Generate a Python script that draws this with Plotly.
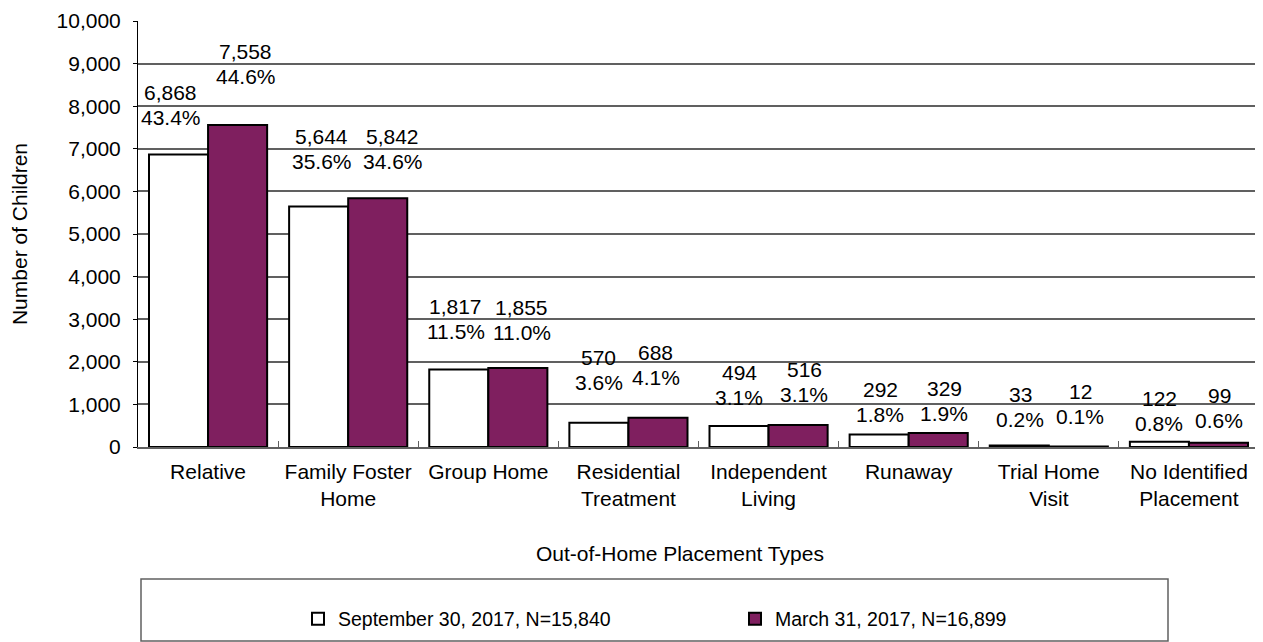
import plotly.graph_objects as go

categories = ["Relative", "Family Foster<br>Home", "Group Home", "Residential<br>Treatment",
              "Independent<br>Living", "Runaway", "Trial Home<br>Visit", "No Identified<br>Placement"]
sep_values = [6868, 5644, 1817, 570, 494, 292, 33, 122]
sep_pct = ["43.4%", "35.6%", "11.5%", "3.6%", "3.1%", "1.8%", "0.2%", "0.8%"]
mar_values = [7558, 5842, 1855, 688, 516, 329, 12, 99]
mar_pct = ["44.6%", "34.6%", "11.0%", "4.1%", "3.1%", "1.9%", "0.1%", "0.6%"]
sep_name = "September 30, 2017, N=15,840"
mar_name = "March 31, 2017, N=16,899"

# label nudges (pixels) to mimic the original label placement
sep_label_dy = [62, 70, 63, 65, 53, 45, 51, 43]
mar_label_dy = [74, 62, 60, 65, 56, 44, 55, 47]
sep_label_dx = [-8, 3, -3, 0, 0, 1, 1, 0]
mar_label_dx = [8, 15, 4, -2, 6, 6, 2, 1]

FONT = "Liberation Sans, Arial, sans-serif"
PURPLE = "#7F1F5F"
GRID = "#606060"
BARGAP = 0.157
TOP, BOTTOM = 13, 203
PW, PH = 1121, 642 - TOP - BOTTOM  # plot area size in px

fig = go.Figure()
fig.add_trace(go.Bar(x=categories, y=sep_values, name=sep_name,
                     marker=dict(color="white", line=dict(color="black", width=2))))
fig.add_trace(go.Bar(x=categories, y=mar_values, name=mar_name,
                     marker=dict(color=PURPLE, line=dict(color="black", width=2))))

half = (1 - BARGAP) / 4  # offset of each bar centre from the category centre
annotations = []
for i in range(len(categories)):
    for val, pct, dy, dx, off in [
        (sep_values[i], sep_pct[i], sep_label_dy[i], sep_label_dx[i], -half),
        (mar_values[i], mar_pct[i], mar_label_dy[i], mar_label_dx[i], half),
    ]:
        annotations.append(dict(x=i + off, y=val, xref="x", yref="y", text=f"{val:,}",
                                showarrow=False, yanchor="middle", xanchor="center",
                                xshift=dx, yshift=dy, font=dict(size=21, color="black", family=FONT)))
        annotations.append(dict(x=i + off, y=val, xref="x", yref="y", text=pct,
                                showarrow=False, yanchor="middle", xanchor="center",
                                xshift=dx, yshift=dy - 25, font=dict(size=21, color="black", family=FONT)))

annotations.append(dict(x=542 / PW, y=-106 / PH, xref="paper", yref="paper",
                        text="Out-of-Home Placement Types", showarrow=False,
                        xanchor="center", yanchor="middle",
                        font=dict(size=21, color="black", family=FONT)))

fig.update_layout(
    width=1263, height=642,
    margin=dict(l=130, r=12, t=TOP, b=BOTTOM, autoexpand=False),
    paper_bgcolor="white", plot_bgcolor="white",
    font=dict(family=FONT, size=21, color="black"),
    barmode="group", bargap=BARGAP, bargroupgap=0,
    annotations=annotations,
    showlegend=True,
    legend=dict(orientation="h", x=160 / PW, xanchor="left",
                y=-172 / PH, yanchor="middle",
                entrywidth=392, entrywidthmode="pixels", itemwidth=30,
                font=dict(size=19.5, family=FONT, color="black"),
                bgcolor="rgba(0,0,0,0)", borderwidth=0),
    shapes=[dict(type="rect", xref="paper", yref="paper",
                 x0=3 / PW, x1=1030 / PW,
                 y0=-194 / PH, y1=-132 / PH,
                 line=dict(color=GRID, width=1.5), fillcolor="rgba(0,0,0,0)", layer="below")],
)

fig.update_xaxes(
    type="category", showline=True, linecolor=GRID, linewidth=1.5,
    ticks="inside", tickson="boundaries", ticklen=6, tickcolor=GRID, tickwidth=1,
    showgrid=False, ticklabelstandoff=5,
    tickfont=dict(size=21, family=FONT, color="black"),
)
fig.update_yaxes(
    range=[0, 10000], dtick=1000, tickformat=",",
    showline=True, linecolor="black", linewidth=1,
    ticks="outside", ticklen=4, tickcolor="black",
    showgrid=True, gridcolor=GRID, gridwidth=1.5,
    zeroline=False, ticklabelstandoff=8, ticklabeloverflow="allow",
    tickfont=dict(size=21, family=FONT, color="black"),
    title=dict(text="Number of Children", standoff=29,
               font=dict(size=21, family=FONT, color="black")),
)

fig.write_html("out.html")
